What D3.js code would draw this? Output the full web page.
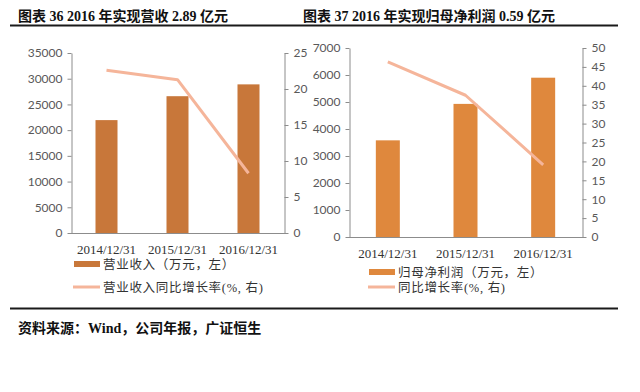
<!DOCTYPE html>
<html>
<head>
<meta charset="utf-8">
<script src="https://cdn.jsdelivr.net/npm/d3@7"></script>
<style>
body { margin: 0; background: #fff; }
svg { display: block; }
</style>
</head>
<body>
<div id="chart"></div>
<script>
var categories = ['2014/12/31', '2015/12/31', '2016/12/31'];

// 图表36
var revenue = [21950, 26600, 28900];
var revenueGrowth = [22.6, 21.3, 8.3];
var revTicksLeft = [0, 5000, 10000, 15000, 20000, 25000, 30000, 35000];
var revTicksRight = [0, 5, 10, 15, 20, 25];

// 图表37
var netProfit = [3580, 4930, 5900];
var profitGrowth = [46.3, 37.5, 19.1];
var profTicksLeft = [0, 1000, 2000, 3000, 4000, 5000, 6000, 7000];
var profTicksRight = [0, 5, 10, 15, 20, 25, 30, 35, 40, 45, 50];

var width = 640,
	height = 392,
	axisColor = '#8c8c8c',
	labelColor = '#595959',
	lineColor = '#f5b59a',
	cjk = '"Liberation Serif", "Noto Sans CJK SC", serif',
	numFont = 'Lato, "Open Sans", sans-serif';

var svg = d3.select('#chart').append('svg')
	.attr('width', width)
	.attr('height', height);

// rules top & bottom
svg.append('rect').attr('x', 10).attr('y', 24.5).attr('width', 608).attr('height', 2).attr('fill', '#1a1a1a');
svg.append('rect').attr('x', 10).attr('y', 307.5).attr('width', 608).attr('height', 2).attr('fill', '#1a1a1a');

svg.append('text')
	.attr('x', 18).attr('y', 333)
	.style('font-family', cjk).style('font-size', '14px').style('font-weight', 'bold')
	.attr('fill', '#111')
	.text('资料来源：Wind，公司年报，广证恒生');

drawChart({
	title: '图表 36 2016 年实现营收 2.89 亿元',
	titleX: 18,
	left: 71, right: 284, top: 53, bottom: 233,
	bars: revenue, line: revenueGrowth,
	maxLeft: 35000, maxRight: 25,
	ticksLeft: revTicksLeft, ticksRight: revTicksRight,
	barColor: '#c8773a', barWidth: 22,
	xLabelY: 254,
	legendRectY: 261, legendText1Y: 269, legendLineY: 287, legendText2Y: 292,
	legendX: 74,
	legend1: '营业收入（万元，左）',
	legend2: '营业收入同比增长率(%, 右)'
});

drawChart({
	title: '图表 37 2016 年实现归母净利润 0.59 亿元',
	titleX: 303,
	left: 349, right: 582, top: 48, bottom: 237,
	bars: netProfit, line: profitGrowth,
	maxLeft: 7000, maxRight: 50,
	ticksLeft: profTicksLeft, ticksRight: profTicksRight,
	barColor: '#df883d', barWidth: 24,
	xLabelY: 258,
	legendRectY: 269, legendText1Y: 277, legendLineY: 287, legendText2Y: 292,
	legendX: 369,
	legend1: '归母净利润（万元，左）',
	legend2: '同比增长率(%, 右)'
});

function drawChart(c) {
	var g = svg.append('g');

	g.append('text')
		.attr('x', c.titleX).attr('y', 21)
		.style('font-family', cjk).style('font-size', '14px').style('font-weight', 'bold')
		.attr('fill', '#111')
		.text(c.title);

	var x = d3.scaleBand().domain(categories).range([c.left, c.right]);
	var yL = d3.scaleLinear().domain([0, c.maxLeft]).range([c.bottom, c.top]);
	var yR = d3.scaleLinear().domain([0, c.maxRight]).range([c.bottom, c.top]);

	//bars
	g.selectAll('.bar').data(c.bars).enter().append('rect')
		.attr('x', function(d, i) { return x(categories[i]) + x.bandwidth()/2 - c.barWidth/2; })
		.attr('y', function(d) { return yL(d); })
		.attr('width', c.barWidth)
		.attr('height', function(d) { return c.bottom - yL(d); })
		.attr('fill', c.barColor);

	//growth line
	var line = d3.line()
		.x(function(d, i) { return x(categories[i]) + x.bandwidth()/2; })
		.y(function(d) { return yR(d); });
	g.append('path')
		.datum(c.line)
		.attr('d', line)
		.attr('fill', 'none')
		.attr('stroke', lineColor)
		.attr('stroke-width', 3)
		.attr('stroke-linejoin', 'round');

	//left axis
	var axL = g.append('g')
		.attr('transform', 'translate(' + (c.left + 0.5) + ',0)')
		.call(d3.axisLeft(yL).tickValues(c.ticksLeft).tickFormat(d3.format('d'))
			.tickSize(4).tickSizeOuter(0).tickPadding(5));
	//right axis
	var axR = g.append('g')
		.attr('transform', 'translate(' + (c.right + 0.5) + ',0)')
		.call(d3.axisRight(yR).tickValues(c.ticksRight).tickFormat(d3.format('d'))
			.tickSize(4).tickSizeOuter(0).tickPadding(5));
	//bottom axis line
	g.append('line')
		.attr('x1', c.left).attr('x2', c.right + 1)
		.attr('y1', c.bottom + 0.5).attr('y2', c.bottom + 0.5)
		.attr('stroke', axisColor);

	[axL, axR].forEach(function(ax) {
		ax.select('.domain').attr('stroke', axisColor);
		ax.selectAll('.tick line').attr('stroke', axisColor);
		ax.selectAll('.tick text')
			.attr('fill', labelColor)
			.style('font-family', numFont)
			.style('font-size', '12px');
	});

	g.selectAll('.xlab').data(categories).enter().append('text')
		.attr('x', function(d) { return x(d) + x.bandwidth()/2; })
		.attr('y', c.xLabelY)
		.attr('text-anchor', 'middle')
		.style('font-family', '"Liberation Serif", serif')
		.style('font-size', '13px')
		.attr('fill', '#333')
		.text(function(d) { return d; });

	//legend
	g.append('rect')
		.attr('x', c.legendX).attr('y', c.legendRectY)
		.attr('width', 26).attr('height', 6)
		.attr('fill', c.barColor);
	g.append('text')
		.attr('x', c.legendX + 29).attr('y', c.legendText1Y)
		.style('font-family', cjk).style('font-size', '12.5px')
		.style('letter-spacing', '0.7px')
		.attr('fill', '#333')
		.text(c.legend1);
	g.append('line')
		.attr('x1', c.legendX - 1).attr('x2', c.legendX + 26)
		.attr('y1', c.legendLineY).attr('y2', c.legendLineY)
		.attr('stroke', lineColor).attr('stroke-width', 3);
	g.append('text')
		.attr('x', c.legendX + 29).attr('y', c.legendText2Y)
		.style('font-family', cjk).style('font-size', '12.5px')
		.style('letter-spacing', '0.7px')
		.attr('fill', '#333')
		.text(c.legend2);
}
</script>
</body>
</html>
